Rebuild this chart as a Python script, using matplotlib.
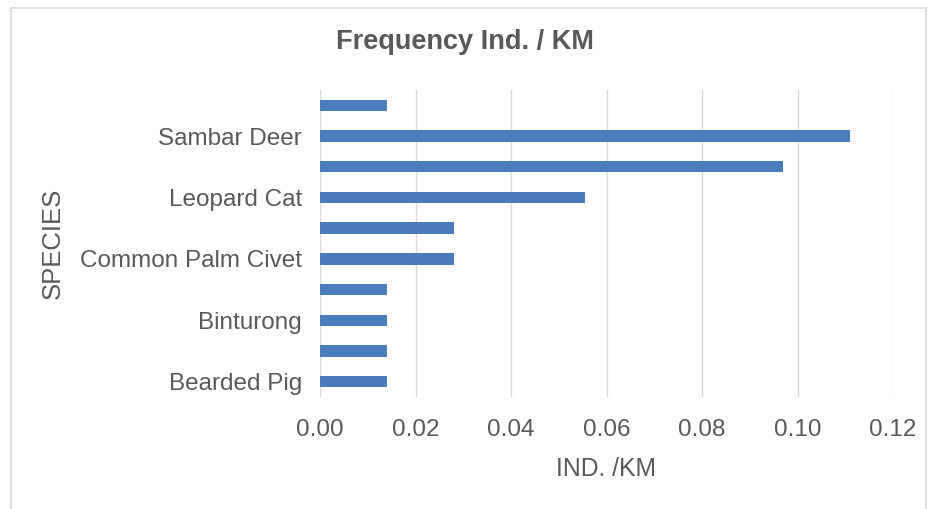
import matplotlib
matplotlib.use("Agg")
import matplotlib.pyplot as plt
from matplotlib.patches import Rectangle
from matplotlib import font_manager

names = {f.name for f in font_manager.fontManager.ttflist}
base_font = "Liberation Sans" if "Liberation Sans" in names else "DejaVu Sans"

# Data (bottom to top), only every other label is shown in the original
species = ["Bearded Pig", "", "Binturong", "", "Common Palm Civet", "",
           "Leopard Cat", "", "Sambar Deer", ""]
values = [0.014, 0.014, 0.014, 0.014, 0.028, 0.028, 0.0555, 0.097, 0.111, 0.014]
xticks = [0.00, 0.02, 0.04, 0.06, 0.08, 0.10, 0.12]

W, H = 930, 509
fig = plt.figure(figsize=(W / 100, H / 100), dpi=100)
ax = fig.add_axes([320 / W, 1 - 397 / H, (893 - 320) / W, (397 - 90) / H])

pos = list(range(len(values)))
ax.barh(pos, values, height=0.37, color="#4a7ebb", zorder=3)
ax.set_ylim(-0.5, len(values) - 0.5)
ax.set_xlim(0, 0.12)
ax.set_xticks(xticks)
ax.set_xticklabels([f"{t:.2f}" for t in xticks])
ax.set_yticks(pos)
ax.set_yticklabels(species)

ax.grid(axis="x", color="#d9d9d9", linewidth=1, zorder=0)
for s in ax.spines.values():
    s.set_visible(False)
ax.tick_params(axis="both", length=0, labelsize=17.5, labelcolor="#595959")
ax.tick_params(axis="x", pad=15.5)
ax.tick_params(axis="y", pad=13)
for lab in ax.get_xticklabels() + ax.get_yticklabels():
    lab.set_fontfamily(base_font)

ax.set_xlabel("IND. /KM", fontsize=17.8, color="#595959", family=base_font, labelpad=12)
ax.set_ylabel("SPECIES", fontsize=18.5, color="#595959", family=base_font, labelpad=11)

fig.text(465 / W, 1 - 42 / H, "Frequency Ind. / KM", ha="center", va="center",
         fontsize=19.5, fontweight="bold", color="#595959", family=base_font)

fig.patches.append(Rectangle((11 / W, -0.05), (926 - 11) / W, 1.05 - 8 / H,
                             transform=fig.transFigure, fill=False,
                             edgecolor="#d9d9d9", linewidth=1.2))

fig.savefig("out.png", dpi=100, facecolor="white")
